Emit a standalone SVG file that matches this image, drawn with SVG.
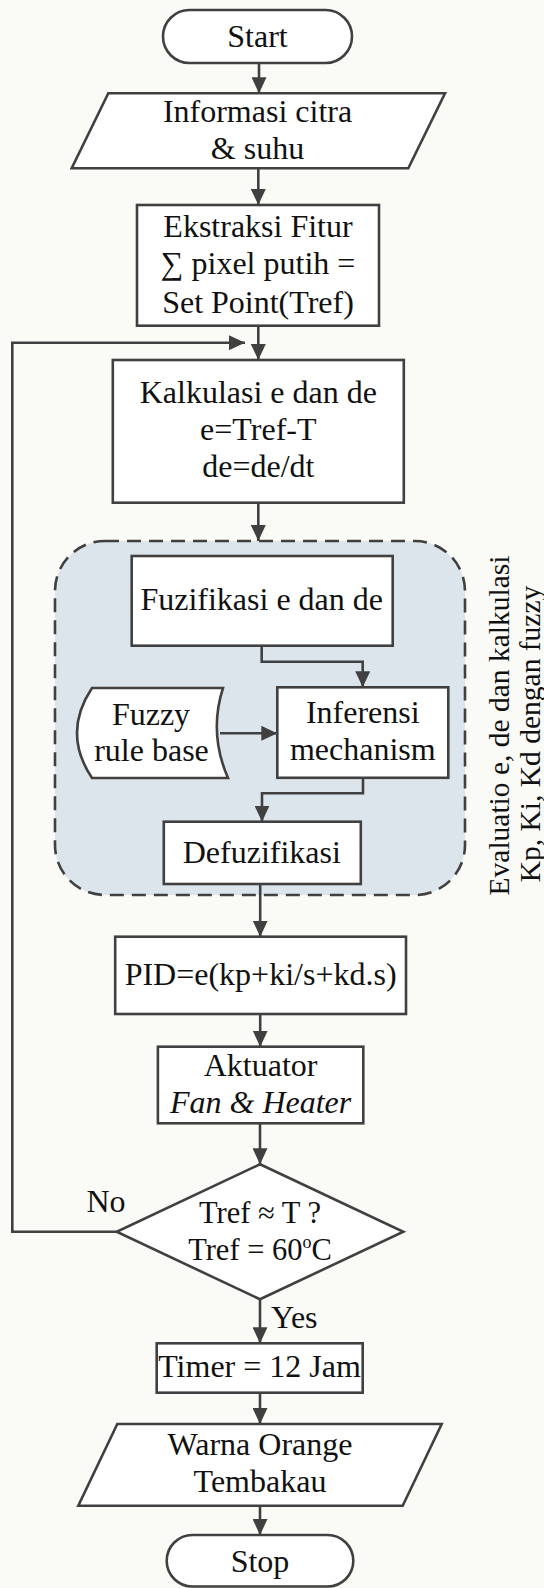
<svg xmlns="http://www.w3.org/2000/svg" width="544" height="1588" viewBox="0 0 544 1588">
  <style>
    .shape { fill: #ffffff; stroke: #404040; stroke-width: 2.6; }
    .wire { fill: none; stroke: #404040; stroke-width: 2.6; }
    .lbl { font-family: "Liberation Serif", "Times New Roman", serif; font-size: 32px; fill: #111111; text-anchor: middle; }
    .lbl-start { font-family: "Liberation Serif", "Times New Roman", serif; font-size: 32px; fill: #111111; }
    .dec { font-size: 30.5px; }
    .side { font-family: "Liberation Serif", "Times New Roman", serif; font-size: 29.5px; fill: #111111; text-anchor: middle; }
  </style>
  <defs>
    <marker id="arrow" markerUnits="userSpaceOnUse" markerWidth="16" markerHeight="15" refX="16" refY="7.5" orient="auto">
      <path d="M0,0 L16,7.5 L0,15 Z" fill="#404040"/>
    </marker>
  </defs>

  <!-- page background -->
  <rect x="0" y="0" width="544" height="1588" fill="#fafaf7"/>

  <!-- fuzzy evaluation block -->
  <g id="fuzzy-block">
    <rect x="55" y="541" width="410" height="354" rx="50" ry="50" fill="#dde5ec" stroke="#404040" stroke-width="2.6" stroke-dasharray="14 8"/>
    <text class="side" transform="translate(509 725.5) rotate(-90)">Evaluatio e, de dan kalkulasi</text>
    <text class="side" transform="translate(540 734) rotate(-90)">Kp, Ki, Kd dengan fuzzy</text>
  </g>

  <!-- connectors -->
  <g id="connectors">
    <line class="wire" x1="259" y1="62.7" x2="259" y2="93.3" marker-end="url(#arrow)"/>
    <line class="wire" x1="258.3" y1="168.3" x2="258.3" y2="205" marker-end="url(#arrow)"/>
    <line class="wire" x1="258.3" y1="325.7" x2="258.3" y2="360" marker-end="url(#arrow)"/>
    <line class="wire" x1="258.3" y1="502.7" x2="258.3" y2="541" marker-end="url(#arrow)"/>
    <polyline class="wire" points="261.7,645.7 261.7,661.7 362.7,661.7 362.7,687.3" marker-end="url(#arrow)"/>
    <line class="wire" x1="220" y1="733.3" x2="277.3" y2="733.3" marker-end="url(#arrow)"/>
    <polyline class="wire" points="363,777.8 363,793.3 262,793.3 262,821.7" marker-end="url(#arrow)"/>
    <line class="wire" x1="260.2" y1="884" x2="260.2" y2="936.7" marker-end="url(#arrow)"/>
    <line class="wire" x1="260.2" y1="1014" x2="260.2" y2="1046.7" marker-end="url(#arrow)"/>
    <line class="wire" x1="260" y1="1123.3" x2="260" y2="1164.3" marker-end="url(#arrow)"/>
    <polyline class="wire" points="116.7,1231.7 12.3,1231.7 12.3,342.7 245,342.7" marker-end="url(#arrow)"/>
    <line class="wire" x1="260" y1="1299.3" x2="260" y2="1343.3" marker-end="url(#arrow)"/>
    <line class="wire" x1="260" y1="1392.7" x2="260" y2="1424" marker-end="url(#arrow)"/>
    <line class="wire" x1="260" y1="1505.7" x2="260" y2="1535" marker-end="url(#arrow)"/>
    <text class="lbl-start" x="86.5" y="1211.7">No</text>
    <text class="lbl-start" x="271" y="1328">Yes</text>
  </g>

  <g id="start">
    <rect class="shape" x="163" y="10" width="189" height="53" rx="26.5" ry="26.5"/>
    <text class="lbl" x="257.5" y="47">Start</text>
  </g>

  <g id="input-citra">
    <polygon class="shape" points="108.3,93.3 445,93.3 408.3,168.3 71.7,168.3"/>
    <text class="lbl" x="257.5" y="121.7">Informasi citra</text>
    <text class="lbl" x="257.5" y="159">&amp; suhu</text>
  </g>

  <g id="ekstraksi">
    <rect class="shape" x="137" y="205" width="242" height="120.7"/>
    <text class="lbl" x="258" y="236.7">Ekstraksi Fitur</text>
    <text class="lbl" x="258" y="274">∑ pixel putih =</text>
    <text class="lbl" x="258" y="313">Set Point(Tref)</text>
  </g>

  <g id="kalkulasi">
    <rect class="shape" x="112.8" y="360" width="291" height="142.7"/>
    <text class="lbl" x="258.3" y="402.7">Kalkulasi e dan de</text>
    <text class="lbl" x="258.3" y="440">e=Tref-T</text>
    <text class="lbl" x="258.3" y="477.3">de=de/dt</text>
  </g>

  <g id="fuzifikasi">
    <rect class="shape" x="131.7" y="556" width="261" height="89.7"/>
    <text class="lbl" x="261.7" y="610">Fuzifikasi e dan de</text>
  </g>

  <g id="rule-base">
    <path class="shape" d="M92,688 L223,688 Q208.5,733 228,778 L92,778 Q62,733 92,688 Z"/>
    <text class="lbl" x="151" y="725">Fuzzy</text>
    <text class="lbl" x="151.5" y="760.7">rule base</text>
  </g>

  <g id="inferensi">
    <rect class="shape" x="277.3" y="687.3" width="171" height="90.5"/>
    <text class="lbl" x="362.8" y="723.3">Inferensi</text>
    <text class="lbl" x="362.8" y="760">mechanism</text>
  </g>

  <g id="defuzifikasi">
    <rect class="shape" x="163.8" y="821.7" width="197" height="62.3"/>
    <text class="lbl" x="261.8" y="863.3">Defuzifikasi</text>
  </g>

  <g id="pid">
    <rect class="shape" x="115.2" y="936.7" width="290.8" height="77.3"/>
    <text class="lbl" x="260.6" y="985">PID=e(kp+ki/s+kd.s)</text>
  </g>

  <g id="aktuator">
    <rect class="shape" x="157.9" y="1046.7" width="205.4" height="76.6"/>
    <text class="lbl" x="260.6" y="1076">Aktuator</text>
    <text class="lbl" x="260.6" y="1113.3" font-style="italic">Fan &amp; Heater</text>
  </g>

  <g id="decision">
    <polygon class="shape" points="260,1164.3 403.3,1231.7 260,1299.3 116.7,1231.7"/>
    <text class="lbl dec" x="260" y="1222.7">Tref ≈ T ?</text>
    <text class="lbl dec" x="260" y="1260">Tref = 60<tspan font-size="18px" dy="-12">o</tspan><tspan dy="12">C</tspan></text>
  </g>

  <g id="timer">
    <rect class="shape" x="156.7" y="1343.3" width="206" height="49.4"/>
    <text class="lbl" x="259.5" y="1376.7">Timer = 12 Jam</text>
  </g>

  <g id="output-warna">
    <polygon class="shape" points="117.3,1424 441.7,1424 402.7,1505.7 78.3,1505.7"/>
    <text class="lbl" x="260" y="1455">Warna Orange</text>
    <text class="lbl" x="260" y="1492.3">Tembakau</text>
  </g>

  <g id="stop">
    <rect class="shape" x="166.7" y="1535" width="186.6" height="51.5" rx="25.75" ry="25.75"/>
    <text class="lbl" x="260" y="1571.7">Stop</text>
  </g>
</svg>
